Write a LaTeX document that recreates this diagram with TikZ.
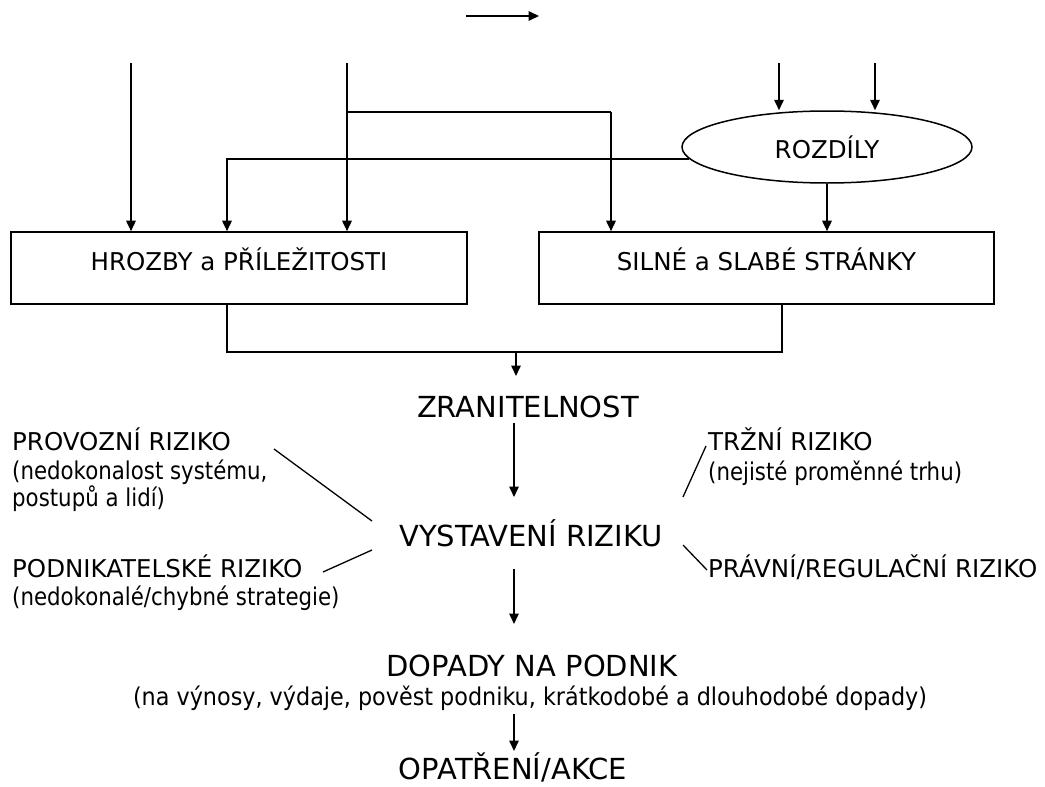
\documentclass[tikz,border=0pt]{standalone}
\usepackage{fontspec}
\setmainfont{DejaVu Sans}
\newfontfamily\nar[FakeStretch=0.87]{DejaVu Sans}
\newfontfamily\narb[FakeStretch=0.91]{DejaVu Sans}
\usetikzlibrary{arrows.meta,shapes.geometric}
\tikzset{
  ln/.style={line width=1.6pt},
  arr/.style={ln,-{Triangle[length=10.5pt,width=9.5pt]}},
  thin/.style={line width=1.3pt},
  boxst/.style={draw,line width=1.6pt,minimum height=72pt,inner sep=0pt,
    text height=18pt,text depth=14pt,font=\fontsize{24.5}{29}\selectfont},
  capl/.style={font=\fontsize{24.5}{29}\selectfont,inner sep=0pt,anchor=base west},
  subl/.style={font=\nar\fontsize{24.5}{29}\selectfont,inner sep=0pt,anchor=base west},
  big/.style={font=\fontsize{29}{34}\selectfont,inner sep=0pt,anchor=base},
}
\begin{document}
\begin{tikzpicture}[x=1pt,y=-1pt]
\useasboundingbox (0,0) rectangle (1045,787);
% boxes
\node[boxst,minimum width=456pt] (box1) at (239,268) {HROZBY a PŘÍLEŽITOSTI};
\node[boxst,minimum width=455pt] (box2) at (766.5,268) {SILNÉ a SLABÉ STRÁNKY};
\node[draw,ellipse,line width=1.5pt,minimum width=290pt,minimum height=72pt,inner sep=0pt,
  font=\fontsize{24.5}{29}\selectfont] (rz) at (827,147) {ROZDÍLY};
% top arrow
\coordinate (ta) at (466,16);
\coordinate (tb) at (539,16);
\draw[arr] (ta) -- (tb);
% inputs
\coordinate (s1) at (131,63);
\coordinate (s2) at (347,63);
\coordinate (s3) at (779,63);
\coordinate (s4) at (875,63);
\coordinate (b1) at (347,112);
\coordinate (c611) at (611,112);
\coordinate (c227) at (227,0);
\coordinate (c782) at (782,352);
\draw[arr] (s1) -- (s1 |- box1.north);
\draw[arr] (s2) -- (s2 |- box1.north);
\draw[ln] (b1) -- (c611);
\draw[arr] (c611) -- (c611 |- box2.north);
\draw[arr] (s3) -- (s3 |- rz.north);
\draw[arr] (s4) -- (s4 |- rz.north);
\draw[arr] (rz.185) -| (box1.north -| c227);
\draw[arr] (rz.south) -- (rz.south |- box2.north);
% merge
\draw[ln] (box1.south -| c227) |- (c782) -- (box2.south -| c782);
% central column
\node[big] (zr) at (528,417) {ZRANITELNOST};
\node[big] (vy) at (531,546) {VYSTAVENÍ RIZIKU};
\node[big] (dp) at (532,676) {DOPADY NA PODNIK};
\node[font=\narb\fontsize{24.5}{29}\selectfont,inner sep=0pt,anchor=base] (dps) at (530,705) {(na výnosy, výdaje, pověst podniku, krátkodobé a dlouhodobé dopady)};
\node[big] (op) at (513,779) {OPATŘENÍ/AKCE};
\coordinate (m0) at (516,352);
\coordinate (m1) at (516,376);
\coordinate (m2) at (514,423);
\coordinate (m3) at (514,497);
\coordinate (m4) at (514,569);
\coordinate (m5) at (514,624);
\coordinate (m6) at (514,714);
\coordinate (m7) at (514,751);
\draw[arr] (m0) -- (m1);
\draw[arr] (m2) -- (m3);
\draw[arr] (m4) -- (m5);
\draw[arr] (m6) -- (m7);
% side labels
\node[capl] (pr) at (12,450) {PROVOZNÍ RIZIKO};
\node[subl] (pr2) at (12,479) {(nedokonalost systému,};
\node[subl] (pr3) at (12,506) {postupů a lidí)};
\node[capl] (pk) at (12,577) {PODNIKATELSKÉ RIZIKO};
\node[subl] (pk2) at (12,605) {(nedokonalé/chybné strategie)};
\node[capl] (tr) at (708,450) {TRŽNÍ RIZIKO};
\node[subl] (tr2) at (708,480) {(nejisté proměnné trhu)};
\node[capl] (pv) at (708,577) {PRÁVNÍ/REGULAČNÍ RIZIKO};
% diagonal links
\coordinate (p1) at (274,449);
\coordinate (p2) at (372,521);
\coordinate (p3) at (323,572);
\coordinate (p4) at (372,550);
\coordinate (p5) at (683,497);
\coordinate (p6) at (706,446);
\coordinate (p7) at (683,545);
\coordinate (p8) at (707,570);
\draw[thin] (p1) -- (p2);
\draw[thin] (p3) -- (p4);
\draw[thin] (p5) -- (p6);
\draw[thin] (p7) -- (p8);
\end{tikzpicture}
\end{document}
